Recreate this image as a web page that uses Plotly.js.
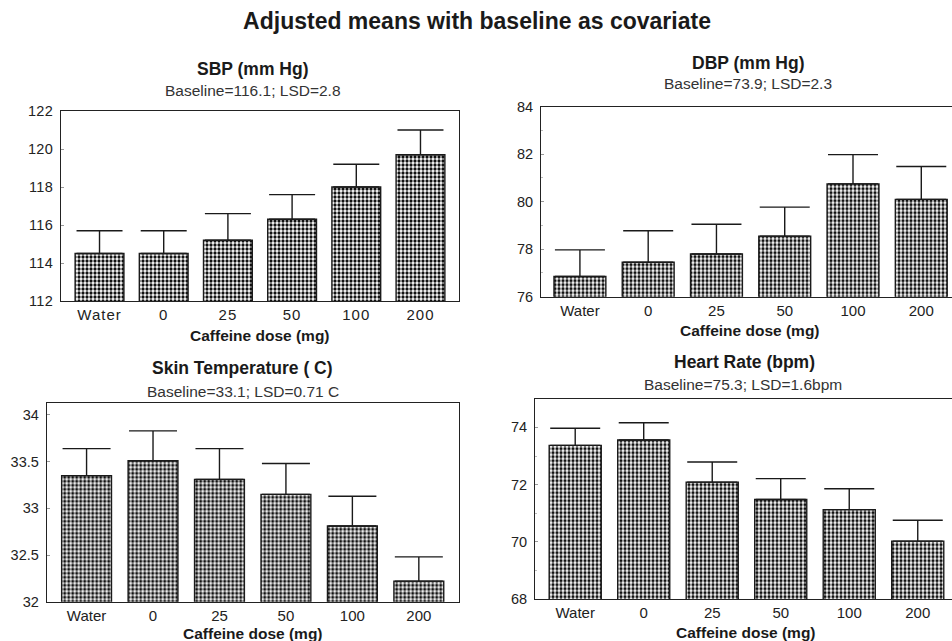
<!DOCTYPE html>
<html>
<head>
<meta charset="utf-8">
<script src="https://cdn.plot.ly/plotly-3.0.1.min.js"></script>
<style>
html,body{margin:0;padding:0;background:#fff;}
#chart{width:952px;height:641px;}
#chart .xtick text{letter-spacing:1px;}
#chart .ytick text{letter-spacing:0.3px;}
</style>
</head>
<body>
<div id="chart"></div>
<script>
// ---- data ----
const categories = ['Water', '0', '25', '50', '100', '200'];

const sbpMean = [114.5, 114.5, 115.2, 116.3, 118.0, 119.7];
const sbpErr  = [1.2, 1.2, 1.4, 1.3, 1.2, 1.3];

const dbpMean = [76.85, 77.45, 77.8, 78.55, 80.75, 80.1];
const dbpErr  = [1.12, 1.33, 1.25, 1.22, 1.23, 1.38];

const skinMean = [33.35, 33.51, 33.31, 33.15, 32.81, 32.22];
const skinErr  = [0.29, 0.32, 0.33, 0.33, 0.32, 0.26];

const hrMean = [73.37, 73.56, 72.09, 71.48, 71.13, 70.03];
const hrErr  = [0.60, 0.60, 0.70, 0.73, 0.73, 0.73];

const panelTitles = ['SBP (mm Hg)', 'DBP (mm Hg)', 'Skin Temperature ( C)', 'Heart Rate (bpm)'];
const panelSubtitles = ['Baseline=116.1; LSD=2.8', 'Baseline=73.9; LSD=2.3', 'Baseline=33.1; LSD=0.71 C', 'Baseline=75.3; LSD=1.6bpm'];
const xTitle = 'Caffeine dose (mg)';
const mainTitle = 'Adjusted means with baseline as covariate';

// ---- helpers ----
const W = 952, H = 641;
const px = v => v / W;
const py = v => 1 - v / H;
const FONT = 'Arial, "Liberation Sans", Helvetica, sans-serif';

function barTrace(means, errs, xa, ya, barWidth, capW) {
  return {
    type: 'bar',
    x: categories,
    y: means,
    xaxis: xa, yaxis: ya,
    width: barWidth,
    marker: {
      color: '#ffffff',
      line: {color: '#1a1a1a', width: 1.4},
      pattern: {shape: '.', fgcolor: '#111111', bgcolor: '#ffffff', size: 4, solidity: 0.52}
    },
    error_y: {
      type: 'data', symmetric: false,
      array: errs, arrayminus: means.map(() => 0),
      color: '#1a1a1a', thickness: 1.4, width: capW
    },
    hoverinfo: 'x+y',
    showlegend: false
  };
}

const traces = [
  barTrace(sbpMean, sbpErr, 'x', 'y', 0.76, 23),
  barTrace(dbpMean, dbpErr, 'x2', 'y2', 0.76, 25),
  barTrace(skinMean, skinErr, 'x3', 'y3', 0.75, 24),
  barTrace(hrMean, hrErr, 'x4', 'y4', 0.76, 25)
];

function xAxis(domain, range, anchor) {
  return {
    domain: domain, range: range, anchor: anchor,
    type: 'category', fixedrange: true,
    showline: true, linecolor: '#222', linewidth: 1, mirror: true,
    showgrid: false, zeroline: false,
    ticks: '', ticklabelstandoff: 0,
    tickfont: {family: FONT, size: 15, color: '#222'}
  };
}
function yAxis(domain, range, dtick, anchor, mirror, minor) {
  const ax = {
    domain: domain, range: range, anchor: anchor,
    fixedrange: true,
    showline: true, linecolor: '#222', linewidth: 1, mirror: mirror,
    showgrid: false, zeroline: false,
    tick0: range[0], dtick: dtick,
    ticks: 'inside', ticklen: 3, tickcolor: '#999', tickwidth: 1,
    ticklabelstandoff: 4,
    tickfont: {family: FONT, size: 14.5, color: '#222'}
  };
  if (minor) ax.minor = {dtick: minor, ticks: 'inside', ticklen: 2, tickcolor: '#bbb', tickwidth: 1, showgrid: false};
  return ax;
}

const layout = {
  width: W, height: H,
  paper_bgcolor: '#fff', plot_bgcolor: '#fff',
  margin: {l: 0, r: 0, t: 0, b: 0},
  showlegend: false,
  title: {
    text: '<b>' + mainTitle + '</b>',
    x: px(477), xanchor: 'center', xref: 'paper',
    y: py(21), yanchor: 'middle', yref: 'paper',
    font: {family: FONT, size: 23, color: '#1a1a1a'}
  },
  xaxis:  xAxis([px(61), px(459)], [-0.6, 5.6], 'y'),
  yaxis:  yAxis([py(301), py(111)], [112, 122], 2, 'x', true, null),
  xaxis2: xAxis([px(541), 1], [-0.57, 5.45], 'y2'),
  yaxis2: yAxis([py(296.7), py(106.7)], [76, 84], 2, 'x2', false, 1),
  xaxis3: xAxis([px(46.7), px(458.7)], [-0.6, 5.6], 'y3'),
  yaxis3: yAxis([py(601.7), py(403.3)], [32, 34.125], 0.5, 'x3', true, null),
  xaxis4: xAxis([px(535), 1], [-0.587, 5.5], 'y4'),
  yaxis4: yAxis([py(599.3), py(398.7)], [68, 75.0], 2, 'x4', false, 1),
  annotations: []
};

const titlePos = [[253, 69], [748, 62.5], [243, 368], [744, 362]];
const subPos = [[253, 90], [748, 84], [243, 391], [743, 384]];
const xTitlePos = [[260, 335], [750, 330], [253, 633], [746, 632]];

for (let i = 0; i < 4; i++) {
  layout.annotations.push({
    text: '<b>' + panelTitles[i] + '</b>', showarrow: false,
    xref: 'paper', yref: 'paper', x: px(titlePos[i][0]), y: py(titlePos[i][1]),
    xanchor: 'center', yanchor: 'middle',
    font: {family: FONT, size: 17.5, color: '#1a1a1a'}
  });
  layout.annotations.push({
    text: panelSubtitles[i], showarrow: false,
    xref: 'paper', yref: 'paper', x: px(subPos[i][0]), y: py(subPos[i][1]),
    xanchor: 'center', yanchor: 'middle',
    font: {family: FONT, size: 15.5, color: '#333'}
  });
  layout.annotations.push({
    text: '<b>' + xTitle + '</b>', showarrow: false,
    xref: 'paper', yref: 'paper', x: px(xTitlePos[i][0]), y: py(xTitlePos[i][1]),
    xanchor: 'center', yanchor: 'middle',
    font: {family: FONT, size: 15.5, color: '#1a1a1a'}
  });
}

Plotly.newPlot('chart', traces, layout, {displayModeBar: false, staticPlot: true});
</script>
</body>
</html>
